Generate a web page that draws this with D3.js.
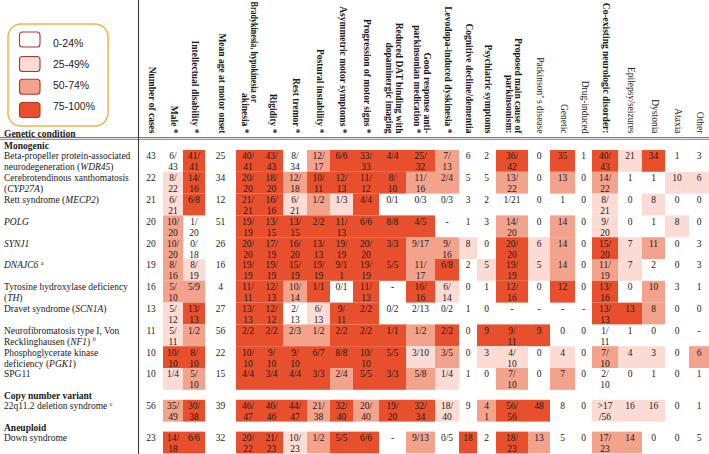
<!DOCTYPE html>
<html><head><meta charset="utf-8">
<script src="https://cdn.jsdelivr.net/npm/d3@7/dist/d3.min.js"></script>
<style>body{margin:0;background:#fff}svg{display:block}</style>
</head><body><svg id="c" width="709" height="454"></svg>
<script>
// ---------------- DATA ----------------
const legendLabels = ["0-24%", "25-49%", "50-74%", "75-100%"];
const legendThresholds = [0.25, 0.5, 0.75];

const columnKeys = ["N","Male","ID","Age","Brady","Rig","Rest","Post","Asym","Prog","DAT","Good","LID","Cog","Psych","Prop","PD","Gen","Drug","Coex","Epi","Dys","Atax","Other"];
const columnHeaders = [
  ["Number of cases"], ["Male *"], ["Intellectual disability *"], ["Mean age at motor onset"],
  ["Bradykinesia, hypokinesia or", "akinesia *"], ["Rigidity *"], ["Rest tremor *"],
  ["Postural instability *"], ["Asymmetric motor symptoms *"], ["Progression of motor signs *"],
  ["Reduced DAT binding with", "dopaminergic imaging"], ["Good response anti-", "parkinsonian medication *"],
  ["Levodopa-induced dyskinesia *"], ["Cognitive decline/dementia"], ["Psychiatric symptoms"],
  ["Proposed main cause of", "parkinsonism:"], ["Parkinson\u2019 s disease"], ["Genetic"], ["Drug-induced"],
  ["Co-existing neurologic disorder:"], ["Epilepsy/seizures"], ["Dystonia"], ["Ataxia"], ["Other"]
];
const regularHeaderColumns = ["PD","Gen","Drug","Epi","Dys","Atax","Other"];
const unshadedColumns = ["N","Age"];

const groupNames = ["Monogenic", "Copy number variant", "Aneuploid"];
const rowGroupIndex = [0,0,0,0,0,0,0,0,0,0,0,1,2];
const rowLabels = [
  ["Beta-propeller protein-associated", "neurodegeneration (<i>WDR45</i>)"],
  ["Cerebrotendinous xanthomatosis", "(<i>CYP27A</i>)"],
  ["Rett syndrome (<i>MECP2</i>)"],
  ["<i>POLG</i>"],
  ["<i>SYNJ1</i>"],
  ["<i>DNAJC6</i> <sup>a</sup>"],
  ["Tyrosine hydroxylase deficiency", "(<i>TH</i>)"],
  ["Dravet syndrome (<i>SCN1A</i>)"],
  ["Neurofibromatosis type I, Von", "Recklinghausen (<i>NF1</i>) <sup>b</sup>"],
  ["Phosphoglycerate kinase", "deficiency (<i>PGK1</i>)"],
  ["SPG11"],
  ["22q11.2 deletion syndrome <sup>c</sup>"],
  ["Down syndrome"]
];
const cellValues = [
  ["43","6/\n43","41/\n41","25","40/\n41","43/\n43","8/\n34","12/\n17","6/6","33/\n33","4/4","25/\n32","7/\n13","6","2","36/\n42","0","35","1","40/\n43","21","34","1","3"],
  ["22","8/\n22","14/\n16","34","20/\n20","18/\n20","12/\n18","10/\n11","12/\n13","11/\n12","8/\n10","11/\n16","2/4","5","5","13/\n22","0","13","0","14/\n22","1","1","10","6"],
  ["21","6/\n21","6/8","12","21/\n21","16/\n16","6/\n21","1/2","1/3","4/4","0/1","0/3","0/3","3","2","1/21","0","1","0","8/\n21","0","8","0","0"],
  ["20","10/\n20","1/\n20","51","19/\n19","13/\n15","13/\n15","2/2","11/\n13","6/6","8/8","4/5","-","1","3","14/\n20","0","14","0","9/\n20","0","1","8","0"],
  ["20","10/\n20","0/\n18","26","20/\n20","17/\n19","16/\n20","13/\n13","19/\n19","20/\n20","3/3","9/17","9/\n16","8","0","20/\n20","6","14","0","15/\n20","7","11","0","3"],
  ["19","8/\n16","8/\n19","16","19/\n19","19/\n19","15/\n19","19/\n19","9/1\n1","19/\n19","5/5","11/\n17","6/8","2","5","19/\n19","5","14","0","11/\n19","7","2","0","3"],
  ["16","5/\n10","5/9","4","11/\n11","12/\n13","10/\n14","1/1","0/1","11/\n13","-","16/\n16","6/\n14","0","1","12/\n16","0","12","0","13/\n16","0","10","3","1"],
  ["13","5/\n12","13/\n13","27","13/\n13","12/\n12","2/\n13","6/\n13","9/\n11","2/2","0/2","2/13","0/2","1","0","-","-","-","-","13/\n13","13","8","0","0"],
  ["11","5/\n11","1/2","56","2/2","2/2","2/3","1/2","2/2","2/2","1/1","1/2","2/2","0","9","9/\n11","9","0","0","1/\n11","1","0","0","-"],
  ["10","10/\n10","8/\n10","22","10/\n10","9/\n10","9/\n10","6/7","8/8","10/\n10","5/5","3/10","3/5","0","3","4/\n10","0","4","0","7/\n10","4","3","0","6"],
  ["10","1/4","5/\n10","15","4/4","3/4","4/4","3/3","2/4","5/5","3/3","5/8","1/4","1","0","7/\n10","0","7","0","2/\n10","0","1","0","1"],
  ["56","35/\n49","30/\n38","39","46/\n47","46/\n46","44/\n47","21/\n38","32/\n40","20/\n40","19/\n20","32/\n34","18/\n40","9","4\n1","56/\n56","48","8","0",">17\n/56","16","16","0","1"],
  ["23","14/\n18","6/6","32","20/\n22","21/\n23","10/\n23","1/2","5/5","6/6","-","9/13","0/5","18","2","18/\n23","13","5","0","17/\n23","14","0","0","5"]
];

// ---------------- LAYOUT ----------------
const W = 709, H = 454;
const SERIF = "'Liberation Serif','Times New Roman',serif";
const FS = 9.5;
const colEdges = [139,163,183,205,236,260,283,307,330,353,379,406,435,459,477,496,528,550,575,592,618,642,665,689,709];
const xLeft = d3.scaleOrdinal().domain(columnKeys).range(colEdges.slice(0, -1));
const xRight = d3.scaleOrdinal().domain(columnKeys).range(colEdges.slice(1));
const xMid = k => (xLeft(k) + xRight(k)) / 2;

const ROW_H = 21.8, GRP_H = 10, TOP = 140;
const rowTop = [], groupTop = [];
{
  let y = TOP, prev = -1;
  rowGroupIndex.forEach((g, i) => {
    if (g !== prev) { groupTop[g] = y; y += GRP_H; prev = g; }
    rowTop[i] = y; y += ROW_H;
  });
}
const yRow = d3.scaleOrdinal().domain(d3.range(rowLabels.length)).range(rowTop);
const yGroup = d3.scaleOrdinal().domain(d3.range(groupNames.length)).range(groupTop);

const color = d3.scaleThreshold().domain(legendThresholds)
  .range(["#ffffff", "#fbdbd3", "#f3a28c", "#e8502d"]);

function fraction(str, n) {
  const s = str.replace(/\n/g, "").replace(">", "");
  if (s === "-") return null;
  if (s.includes("/")) { const [a, b] = s.split("/").map(Number); return a / b; }
  return +s / n;
}

function addRich(t, str) {
  str.split(/(<i>.*?<\/i>|<sup>.*?<\/sup>)/).filter(p => p).forEach(p => {
    if (p.startsWith("<i>")) t.append("tspan").attr("font-style", "italic").text(p.slice(3, -4));
    else if (p.startsWith("<sup>")) t.append("tspan").attr("font-size", "6.2px").attr("dy", -3.6).text(p.slice(5, -6));
    else t.append("tspan").text(p);
  });
}

const svg = d3.select("#c");
svg.append("rect").attr("width", W).attr("height", H).attr("fill", "#fff");

// ---------------- CELLS ----------------
const gCells = svg.append("g");
cellValues.forEach((row, ri) => {
  const n = +row[0];
  row.forEach((val, ci) => {
    const k = columnKeys[ci];
    if (!unshadedColumns.includes(k)) {
      const f = fraction(val, n);
      if (f !== null && f >= legendThresholds[0]) {
        gCells.append("rect")
          .attr("x", xLeft(k)).attr("y", yRow(ri))
          .attr("width", xRight(k) - xLeft(k)).attr("height", ROW_H)
          .attr("fill", color(f));
      }
    }
    val.split("\n").forEach((ln, li) => {
      gCells.append("text")
        .attr("x", xMid(k)).attr("y", yRow(ri) + 9.4 + li * 11)
        .attr("text-anchor", "middle")
        .attr("font-family", SERIF).attr("font-size", FS).attr("fill", "#1a1a1a")
        .text(ln);
    });
  });
});

// ---------------- ROW LABELS ----------------
const gLab = svg.append("g").attr("font-family", SERIF).attr("font-size", FS).attr("fill", "#1a1a1a");
groupNames.forEach((g, gi) => {
  gLab.append("text").attr("x", 4).attr("y", yGroup(gi) + 8.9).attr("font-weight", "bold").text(g);
});
rowLabels.forEach((lines, ri) => {
  lines.forEach((ln, li) => {
    const t = gLab.append("text").attr("x", 4).attr("y", yRow(ri) + 9.4 + li * 11);
    addRich(t, ln);
  });
});
gLab.append("text").attr("x", 4).attr("y", 136.6).attr("font-weight", "bold").text("Genetic condition");

// ---------------- HEADERS ----------------
// Brady's first line sits higher (between top edge and y≈103), squeezed to fit
const headerFit = { Brady: [{ start: 1.5, length: 101 }, null] };
const gHead = svg.append("g").attr("font-family", SERIF).attr("font-size", FS).attr("fill", "#1a1a1a");
columnKeys.forEach((k, i) => {
  const lines = columnHeaders[i];
  const cx = xMid(k) + 1.5;
  lines.forEach((ln, j) => {
    const off = lines.length === 1 ? 0 : (j === 0 ? 4.8 : -4.8);
    const fit = headerFit[k] && headerFit[k][j];
    const t = gHead.append("text")
      .attr("dy", "0.32em")
      .attr("font-weight", regularHeaderColumns.includes(k) ? "normal" : "bold")
      .text(ln);
    if (fit) {
      t.attr("transform", `translate(${cx + off},${fit.start}) rotate(90)`)
        .attr("text-anchor", "start")
        .attr("textLength", fit.length).attr("lengthAdjust", "spacingAndGlyphs");
    } else {
      t.attr("transform", `translate(${cx + off},133.5) rotate(90)`).attr("text-anchor", "end");
    }
  });
});

// ---------------- RULES ----------------
svg.append("line").attr("x1", 0).attr("x2", W).attr("y1", 137.6).attr("y2", 137.6)
  .attr("stroke", "#6a6a6a").attr("stroke-width", 1);
svg.append("line").attr("x1", 0).attr("x2", W).attr("y1", 139.4).attr("y2", 139.4)
  .attr("stroke", "#8a8a8a").attr("stroke-width", 1);
svg.append("line").attr("x1", 138.5).attr("x2", 138.5).attr("y1", 0).attr("y2", H)
  .attr("stroke", "#3a3a3a").attr("stroke-width", 1.1);

// ---------------- LEGEND ----------------
const gLeg = svg.append("g");
gLeg.append("rect").attr("x", 8).attr("y", 24).attr("width", 100).attr("height", 102).attr("rx", 13)
  .attr("fill", "#fff").attr("stroke", "#f6b24a").attr("stroke-width", 1.5);
const legSquareY = [32, 56.5, 79.2, 102.5];
const legTextY = [43.3, 64, 85, 106];
const legColors = color.range();
legendLabels.forEach((lab, i) => {
  gLeg.append("rect").attr("x", 19.5).attr("y", legSquareY[i]).attr("width", 20.5).attr("height", 15).attr("rx", 3)
    .attr("fill", legColors[i]).attr("stroke", "#a83a2c").attr("stroke-width", 1.1);
  gLeg.append("text").attr("x", 53).attr("y", legTextY[i]).attr("dy", "0.35em")
    .attr("font-family", "'Liberation Sans',Arial,sans-serif").attr("font-size", 10.5).attr("fill", "#222")
    .text(lab);
});
</script></body></html>
